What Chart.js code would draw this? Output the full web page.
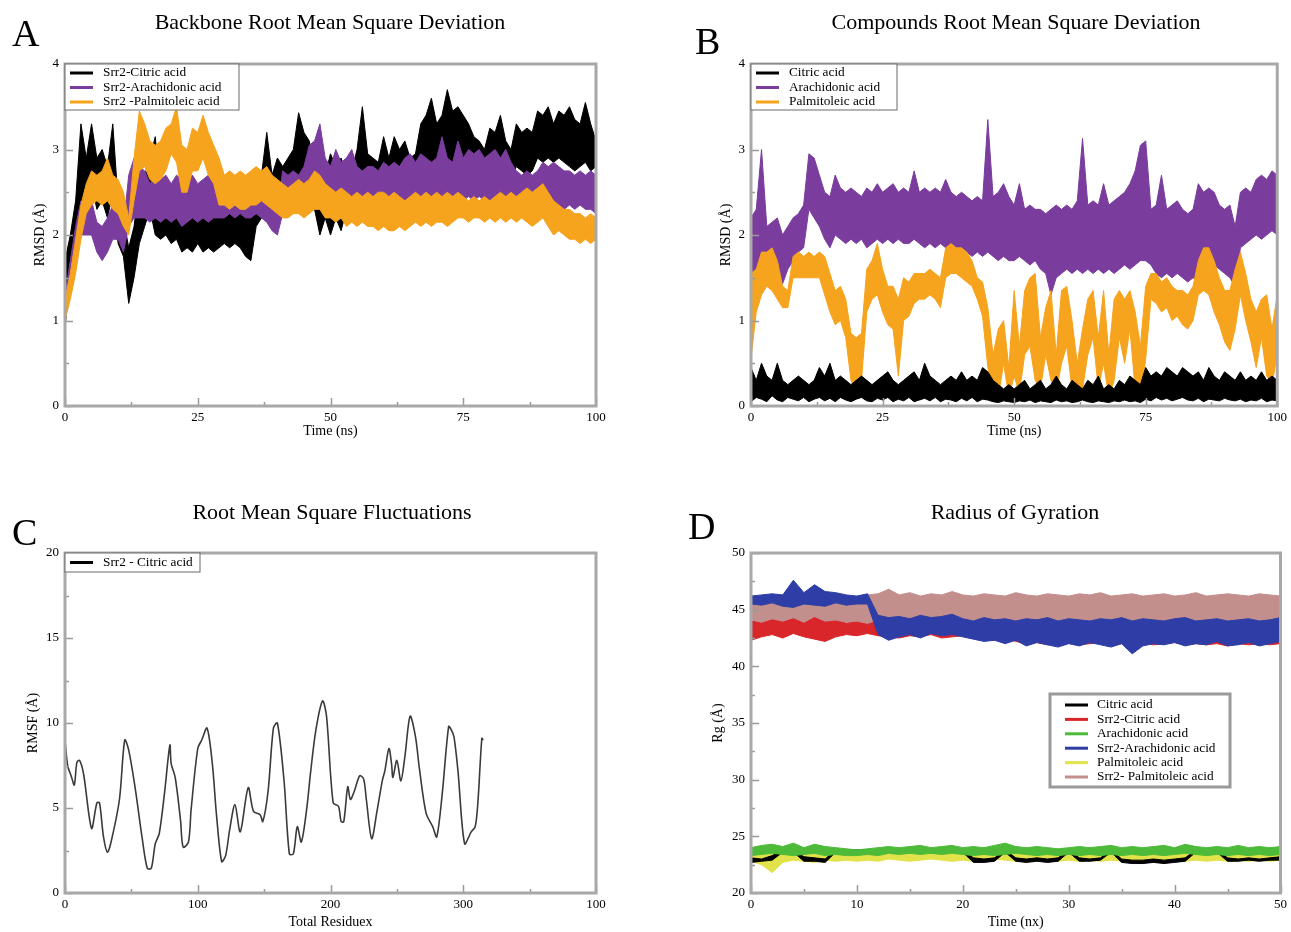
<!DOCTYPE html>
<html><head><meta charset="utf-8">
<script src="https://cdn.jsdelivr.net/npm/chart.js@4.4.1/dist/chart.umd.min.js"></script>
<style>
body{margin:0;background:#fff;width:1291px;height:932px;position:relative;overflow:hidden;font-family:'Liberation Serif','Times New Roman',serif;color:#000;}
canvas{position:absolute;}
.ttl{position:absolute;font-size:22px;line-height:22px;white-space:nowrap;transform:translateX(-50%);}
.lt{position:absolute;font-size:38px;line-height:38px;}
</style></head><body>
<canvas id="cA" width="640" height="460" style="left:0;top:0"></canvas>
<canvas id="cB" width="605" height="460" style="left:686px;top:0"></canvas>
<canvas id="cC" width="640" height="462" style="left:0;top:470px"></canvas>
<canvas id="cD" width="605" height="462" style="left:686px;top:470px"></canvas>
<div class="ttl" style="left:330px;top:11px">Backbone Root Mean Square Deviation</div>
<div class="ttl" style="left:1016px;top:11px">Compounds Root Mean Square Deviation</div>
<div class="ttl" style="left:332px;top:501px">Root Mean Square Fluctuations</div>
<div class="ttl" style="left:1015px;top:501px">Radius of Gyration</div>
<div class="lt" style="left:12px;top:14px">A</div>
<div class="lt" style="left:695px;top:22px">B</div>
<div class="lt" style="left:12px;top:513px">C</div>
<div class="lt" style="left:688px;top:507px">D</div>
<script>
const SERIF = "'Liberation Serif','Times New Roman',serif";
Chart.defaults.font.family = SERIF;
Chart.defaults.color = '#000';

// ---------- names / labels ----------
const bbNames = ['Srr2-Citric acid', 'Srr2-Arachidonic acid', 'Srr2 -Palmitoleic acid'];
const cpNames = ['Citric acid', 'Arachidonic acid', 'Palmitoleic acid'];
const rmsfName = 'Srr2 - Citric acid';
const rgNames = ['Citric acid', 'Srr2-Citric acid', 'Arachidonic acid', 'Srr2-Arachidonic acid', 'Palmitoleic acid', 'Srr2- Palmitoleic acid'];
const rmsfXTickLabels = ['0', '100', '200', '300', '100'];

// sampling grids (ns), one sample per ns
const timeAB = Array.from({length: 101}, (_, i) => i);
const timeD = Array.from({length: 51}, (_, i) => i);

// ---------- A: backbone RMSD (upper / lower envelope of each trace per ns) ----------
const bbCitricHi = [1.7,2.0,2.4,3.3,2.9,3.3,2.9,3.0,2.8,3.3, 2.4,2.2,1.85,2.1,2.6,2.7,2.9,3.15,2.5,2.45, 2.4,2.5,2.35,2.4,2.3,2.45,2.35,2.5,2.3,2.25, 2.4,2.3,2.5,2.4,2.3,2.2,2.6,2.7,3.2,2.7, 2.9,2.8,2.9,3.0,3.43,3.2,3.1,2.8,2.75,2.7, 2.95,2.8,2.9,2.7,2.75,3.0,3.5,2.95,2.9,2.85, 3.15,2.9,3.15,3.0,3.1,2.9,2.95,3.3,3.4,3.6, 3.3,3.4,3.7,3.45,3.5,3.4,3.3,3.15,3.1,3.0, 3.25,3.2,3.4,3.1,3.0,3.3,3.2,3.25,3.2,3.45, 3.4,3.5,3.3,3.45,3.4,3.5,3.35,3.3,3.55,3.3, 3.1];
const bbCitricLo = [0.9,1.6,1.9,2.2,2.4,2.6,2.3,2.4,2.2,2.5, 1.9,1.75,1.2,1.5,1.9,2.1,2.3,2.0,1.95,2.0, 1.9,1.95,1.8,1.85,1.8,1.9,1.8,1.85,1.8,1.85, 1.9,1.85,1.9,1.85,1.75,1.7,2.1,2.2,2.25,2.2, 2.3,2.35,2.3,2.4,2.7,2.6,2.5,2.3,2.0,2.2, 2.0,2.2,2.05,2.3,2.3,2.5,2.7,2.55,2.5,2.5, 2.5,2.45,2.55,2.5,2.6,2.5,2.55,2.7,2.75,2.8, 2.75,2.85,2.9,2.8,2.75,2.8,2.7,2.65,2.6,2.65, 2.75,2.7,2.75,2.7,2.65,2.8,2.75,2.7,2.75,2.9, 2.85,2.9,2.85,2.9,2.85,2.8,2.75,2.8,2.85,2.75, 2.8];
const bbArachHi = [1.3,1.7,2.1,2.4,2.35,2.4,2.15,2.1,2.2,2.35, 2.3,2.1,2.7,2.9,2.8,2.75,2.6,2.7,2.65,2.7, 2.6,2.7,2.65,2.6,2.7,2.6,2.65,2.7,2.6,2.65, 2.6,2.55,2.6,2.6,2.55,2.6,2.55,2.6,2.5,2.45, 2.3,2.75,2.7,2.75,2.7,2.8,3.05,3.1,3.3,2.9, 2.8,3.0,2.85,2.9,3.0,2.8,2.75,2.8,2.8,2.75, 2.85,2.8,2.85,2.8,2.9,2.95,2.85,2.95,2.9,2.85, 2.9,3.15,2.9,2.85,3.1,2.9,3.0,2.95,3.0,2.9, 2.95,3.0,2.9,3.0,2.85,2.75,2.7,2.75,2.7,2.75, 2.85,2.8,2.85,2.8,2.75,2.75,2.7,2.75,2.7,2.75, 2.7];
const bbArachLo = [1.0,1.3,1.7,2.0,2.0,2.0,1.8,1.7,1.8,1.95, 1.95,1.8,2.1,2.2,2.2,2.2,2.15,2.2,2.15,2.2, 2.15,2.2,2.1,2.15,2.2,2.15,2.2,2.15,2.2,2.2, 2.2,2.25,2.2,2.25,2.2,2.2,2.25,2.2,2.15,2.05, 2.0,2.25,2.3,2.25,2.3,2.35,2.45,2.5,2.45,2.4, 2.35,2.4,2.35,2.4,2.35,2.4,2.35,2.35,2.4,2.35, 2.3,2.35,2.3,2.35,2.4,2.4,2.35,2.4,2.45,2.4, 2.4,2.45,2.4,2.45,2.4,2.4,2.45,2.4,2.45,2.4, 2.4,2.45,2.4,2.4,2.35,2.35,2.3,2.35,2.3,2.35, 2.35,2.3,2.35,2.3,2.3,2.35,2.3,2.35,2.3,2.3, 2.25];
const bbPalmHi = [1.25,1.55,1.95,2.35,2.6,2.75,2.7,2.75,2.9,2.7, 2.65,2.5,2.2,2.9,3.45,3.3,3.1,3.05,3.1,3.25, 3.3,3.5,3.05,3.0,3.25,3.2,3.4,3.2,3.05,2.9, 2.7,2.75,2.7,2.75,2.7,2.75,2.8,2.75,2.8,2.7, 2.65,2.6,2.55,2.6,2.65,2.6,2.65,2.75,2.7,2.6, 2.55,2.5,2.55,2.5,2.45,2.5,2.45,2.5,2.45,2.5, 2.5,2.45,2.5,2.45,2.4,2.45,2.5,2.45,2.5,2.45, 2.5,2.45,2.5,2.45,2.5,2.45,2.4,2.45,2.4,2.45, 2.4,2.45,2.5,2.45,2.5,2.45,2.5,2.55,2.5,2.55, 2.6,2.5,2.4,2.35,2.3,2.3,2.25,2.25,2.2,2.25, 2.2];
const bbPalmLo = [1.0,1.25,1.55,1.95,2.25,2.35,2.4,2.35,2.4,2.3, 2.25,2.1,2.0,2.4,2.75,2.8,2.65,2.6,2.65,2.75, 2.95,2.85,2.5,2.5,2.75,2.75,2.9,2.7,2.6,2.35, 2.35,2.3,2.35,2.3,2.3,2.35,2.35,2.4,2.35,2.3, 2.25,2.2,2.2,2.25,2.25,2.2,2.25,2.3,2.3,2.2, 2.2,2.15,2.2,2.1,2.15,2.1,2.15,2.1,2.1,2.05, 2.1,2.05,2.05,2.1,2.05,2.1,2.15,2.1,2.15,2.1, 2.15,2.15,2.1,2.15,2.2,2.2,2.15,2.2,2.2,2.15, 2.2,2.15,2.2,2.15,2.2,2.15,2.2,2.15,2.1,2.15, 2.2,2.1,2.0,2.05,2.0,1.95,1.95,1.9,1.95,1.9, 1.95];

// ---------- B: compound RMSD ----------
const cpCitricHi = [0.45,0.3,0.5,0.35,0.3,0.5,0.3,0.25,0.3,0.35, 0.3,0.25,0.3,0.45,0.35,0.5,0.3,0.35,0.3,0.25, 0.3,0.35,0.3,0.25,0.3,0.35,0.4,0.3,0.25,0.3, 0.35,0.4,0.3,0.5,0.35,0.3,0.25,0.3,0.35,0.3, 0.4,0.3,0.35,0.3,0.45,0.4,0.3,0.25,0.2,0.25, 0.2,0.25,0.3,0.2,0.25,0.3,0.2,0.25,0.35,0.25, 0.2,0.3,0.25,0.2,0.3,0.25,0.35,0.2,0.25,0.2, 0.3,0.25,0.35,0.3,0.25,0.45,0.35,0.4,0.35,0.45, 0.4,0.35,0.45,0.4,0.35,0.4,0.3,0.45,0.35,0.3, 0.4,0.35,0.3,0.4,0.3,0.35,0.3,0.4,0.3,0.35, 0.3];
const cpCitricLo = [0.05,0.1,0.08,0.05,0.12,0.07,0.05,0.1,0.08,0.06, 0.1,0.05,0.08,0.1,0.06,0.09,0.05,0.1,0.07,0.05, 0.08,0.1,0.06,0.05,0.09,0.07,0.1,0.05,0.08,0.06, 0.1,0.05,0.07,0.09,0.06,0.1,0.05,0.08,0.07,0.05, 0.09,0.06,0.1,0.05,0.08,0.07,0.05,0.04,0.06,0.05, 0.04,0.06,0.05,0.07,0.04,0.06,0.05,0.04,0.07,0.05, 0.06,0.04,0.05,0.07,0.05,0.04,0.06,0.05,0.04,0.06, 0.05,0.07,0.05,0.06,0.04,0.08,0.06,0.1,0.07,0.09, 0.06,0.08,0.1,0.07,0.06,0.09,0.05,0.08,0.07,0.06, 0.09,0.07,0.06,0.08,0.05,0.07,0.06,0.09,0.05,0.07, 0.06];
const cpArachHi = [2.2,2.3,3.0,2.1,2.15,2.2,2.0,2.1,2.2,2.25, 2.35,2.95,2.9,2.7,2.5,2.45,2.7,2.55,2.5,2.55, 2.5,2.45,2.55,2.5,2.6,2.5,2.55,2.6,2.5,2.55, 2.5,2.75,2.5,2.55,2.5,2.55,2.5,2.65,2.5,2.45, 2.5,2.45,2.4,2.45,2.4,3.35,2.45,2.5,2.6,2.45, 2.35,2.6,2.3,2.35,2.3,2.3,2.25,2.3,2.35,2.3, 2.35,2.3,2.4,3.13,2.35,2.4,2.35,2.6,2.35,2.4, 2.45,2.5,2.6,2.75,3.05,3.1,2.3,2.35,2.7,2.3, 2.35,2.4,2.3,2.25,2.3,2.6,2.5,2.55,2.5,2.35, 2.3,2.35,2.1,2.5,2.55,2.5,2.65,2.7,2.65,2.75, 2.7];
const cpArachLo = [1.5,1.6,1.7,1.6,1.65,1.7,1.43,1.6,1.7,1.8, 1.85,2.3,2.2,2.1,1.95,1.85,2.0,1.95,1.9,1.95, 1.9,1.95,1.85,1.9,1.95,1.9,1.95,1.9,1.95,1.9, 1.9,1.95,1.9,1.85,1.9,1.85,1.9,1.85,1.8,1.85, 1.75,1.8,1.75,1.8,1.75,1.8,1.75,1.7,1.75,1.7, 1.7,1.75,1.7,1.65,1.7,1.6,1.55,1.3,1.5,1.55, 1.6,1.55,1.6,1.55,1.6,1.55,1.6,1.55,1.6,1.55, 1.6,1.65,1.6,1.65,1.7,1.7,1.65,1.55,1.5,1.55, 1.5,1.55,1.5,1.45,1.5,1.45,1.55,1.6,1.65,1.6, 1.55,1.5,1.4,1.85,1.9,1.95,2.0,1.95,2.0,2.05, 2.0];
const cpPalmHi = [1.55,1.6,1.8,1.8,1.85,1.7,1.4,1.35,1.75,1.8, 1.75,1.8,1.75,1.8,1.75,1.55,1.35,1.4,1.25,0.85, 0.8,0.85,1.6,1.7,1.9,1.6,1.4,1.4,1.25,1.5, 1.45,1.55,1.55,1.55,1.6,1.55,1.5,1.85,1.9,1.85, 1.85,1.8,1.7,1.5,1.45,1.15,0.6,0.9,1.0,0.45, 1.35,0.7,1.35,1.5,1.55,0.8,1.15,1.35,0.6,1.35, 1.4,1.0,0.5,0.9,1.25,1.35,0.8,1.35,0.6,1.25, 1.35,1.25,1.35,1.1,0.7,1.4,1.55,1.55,1.45,1.5, 1.4,1.35,1.35,1.3,1.4,1.7,1.85,1.85,1.7,1.5, 1.35,1.35,1.6,1.8,1.55,1.25,1.1,1.25,1.3,0.9, 1.3];
const cpPalmLo = [0.55,1.1,1.3,1.4,1.35,1.25,1.15,1.15,1.5,1.5, 1.5,1.5,1.5,1.5,1.3,1.1,0.95,1.0,0.8,0.3, 0.15,0.3,1.1,1.25,1.3,1.1,0.95,0.9,0.35,1.0, 1.05,1.2,1.25,1.25,1.3,1.25,1.15,1.5,1.55,1.55, 1.5,1.45,1.4,1.25,1.05,0.45,0.15,0.1,0.5,0.1, 0.35,0.15,0.6,0.7,0.3,0.2,0.6,0.3,0.15,0.5, 0.7,0.2,0.1,0.2,0.6,0.8,0.2,0.5,0.1,0.3, 0.8,0.5,0.9,0.2,0.1,0.55,1.25,1.2,1.1,1.15, 1.0,1.05,0.95,0.9,1.0,1.3,1.35,1.3,1.1,0.95, 0.75,0.65,0.9,1.3,1.0,0.75,0.45,0.8,0.35,0.25, 0.6];

// ---------- C: RMSF ----------
const rmsfResidue = [0,2,5,7,9,11,14,20,24,26, 29,32,35,41,45,48,53,58,62,65, 68,71,75,79,80,83,87,89,93,95, 100,103,107,111,114,118,121,124,128,132, 138,142,147,149,153,157,160,165,169,172, 175,178,182,185,189,194,197,202,206,208, 210,213,215,218,222,225,227,231,235,239, 241,244,246,247,250,253,256,260,264,267, 272,277,280,284,289,291,293,296,301,306, 309,311,314,315];
const rmsfValue = [9.0,7.5,6.8,6.35,7.7,7.8,7.0,3.8,5.3,5.3, 3.3,2.4,3.1,5.5,9.0,8.4,6.1,3.3,1.45,1.45, 2.9,3.5,5.9,8.7,7.6,6.8,4.3,2.7,3.0,4.9, 8.5,9.0,9.7,7.6,4.7,1.85,2.2,3.7,5.2,3.6, 6.2,4.8,4.6,4.2,6.0,9.7,10.0,6.6,2.3,2.3, 3.9,3.0,4.9,7.1,9.6,11.3,10.4,5.3,5.1,4.2, 4.2,6.25,5.5,6.0,6.9,6.7,5.5,3.2,4.8,6.6, 7.2,8.5,7.6,6.8,7.8,6.6,8.0,10.4,9.2,7.3, 4.7,3.9,3.3,5.7,9.8,9.6,9.2,7.2,2.9,3.6, 3.9,5.3,9.1,9.0];

// ---------- D: radius of gyration ----------
const rgCitricHi = [23.1,23.0,23.3,23.8,23.8,23.2,23.1,23.0,23.8,23.8, 23.8,23.8,23.8,23.8,23.8,23.8,23.8,23.8,23.8,23.8, 23.8,23.1,23.0,23.1,23.8,23.1,23.0,23.1,23.0,23.1, 23.8,23.1,23.0,23.1,23.8,23.0,22.9,22.9,23.0,22.9, 23.0,23.1,23.8,23.8,23.8,23.1,23.0,23.1,23.0,23.1, 23.2];
const rgCitricLo = [22.7,22.8,22.9,23.6,23.6,22.8,22.8,22.7,23.6,23.6, 23.6,23.6,23.6,23.6,23.6,23.6,23.6,23.6,23.6,23.6, 23.6,22.7,22.7,22.8,23.6,22.8,22.7,22.8,22.7,22.8, 23.6,22.8,22.8,22.9,23.6,22.7,22.6,22.6,22.7,22.6, 22.7,22.8,23.6,23.6,23.6,22.8,22.8,22.9,22.8,22.9, 22.9];
const rgSrrCitricHi = [44.0,43.8,44.1,43.9,44.2,43.8,44.3,43.9,44.0,43.8, 43.9,43.7,44.0,44.1,43.9,44.2,44.0,43.9,44.1,44.3, 44.0,43.8,43.9,44.0,43.7,43.8,43.6,43.7,43.5,43.6, 43.7,43.5,43.6,43.7,43.5,43.6,43.4,43.6,43.5,43.7, 43.6,43.5,43.6,43.7,43.5,43.6,43.5,43.7,43.6,43.5, 43.6];
const rgSrrCitricLo = [42.3,42.6,42.8,42.5,42.9,42.6,42.4,42.2,42.6,42.8, 42.7,42.9,42.7,42.6,42.5,42.7,42.6,42.8,42.5,42.6, 42.7,42.5,42.4,42.3,42.5,42.2,42.0,42.1,41.9,42.0, 42.1,41.9,42.0,42.1,41.9,42.0,41.6,42.0,41.9,42.0, 42.1,41.9,42.0,41.9,42.0,41.8,42.0,41.9,42.0,41.9, 42.0];
const rgArachHi = [24.0,24.2,24.3,24.1,24.4,24.0,24.3,24.1,24.0,23.9, 23.8,23.9,24.0,24.1,24.0,24.1,24.2,24.0,24.1,24.2, 24.0,24.1,24.0,24.2,24.4,24.1,24.0,24.1,24.0,23.9, 24.0,24.1,24.0,24.1,24.2,24.0,24.1,24.0,24.1,24.2, 24.0,24.3,24.1,24.0,24.1,24.0,24.2,24.0,24.1,24.0, 24.1];
const rgArachLo = [23.3,23.4,23.5,23.4,23.3,23.4,23.5,23.3,23.4,23.3, 23.3,23.4,23.3,23.5,23.4,23.5,23.4,23.5,23.4,23.5, 23.4,23.3,23.4,23.3,23.4,23.5,23.4,23.3,23.4,23.3, 23.4,23.3,23.4,23.3,23.4,23.3,23.4,23.3,23.4,23.3, 23.4,23.5,23.4,23.3,23.4,23.3,23.4,23.3,23.4,23.3, 23.4];
const rgSrrArachHi = [46.2,46.3,46.4,46.3,47.6,46.5,47.2,46.6,46.5,46.3, 46.2,46.4,44.5,44.3,44.4,44.2,44.5,44.3,44.4,44.6, 44.2,44.0,44.3,44.1,44.2,44.0,44.2,44.1,44.3,44.0, 44.2,44.1,44.0,44.2,44.1,44.3,44.0,44.2,44.1,44.0, 44.2,44.3,44.0,44.1,44.2,44.0,44.1,44.2,44.0,44.1, 44.3];
const rgSrrArachLo = [45.5,45.4,45.6,45.3,45.2,45.5,45.4,45.3,45.6,45.4, 45.5,45.5,42.8,42.3,42.6,42.8,42.5,42.9,42.7,42.8, 42.6,42.4,42.2,42.3,42.0,42.3,41.8,42.1,41.9,41.7, 42.0,41.8,42.1,41.9,41.7,42.0,41.1,41.8,42.0,41.9, 42.1,41.8,42.0,41.9,42.2,41.8,41.9,42.1,41.8,42.0, 42.2];
const rgPalmHi = [23.5,23.6,23.5,23.6,23.7,23.5,23.6,23.5,23.6,23.5, 23.6,23.5,23.6,23.5,23.6,23.7,23.6,23.5,23.6,23.5, 23.6,23.5,23.6,23.5,23.6,23.5,23.6,23.5,23.6,23.5, 23.6,23.5,23.6,23.5,23.6,23.5,23.6,23.5,23.6,23.5, 23.6,23.5,23.6,23.5,23.6,23.5,23.6,23.5,23.6,23.5, 23.6];
const rgPalmLo = [22.8,22.5,21.8,22.7,22.9,22.8,22.7,22.9,22.8,22.9, 22.8,22.9,22.8,23.0,22.9,22.8,22.9,23.0,22.9,22.8, 22.9,22.8,22.9,23.0,22.9,22.8,22.9,22.8,22.9,22.8, 22.9,22.8,22.9,22.8,22.9,22.8,22.9,22.8,22.9,22.8, 22.9,22.8,22.9,22.8,22.9,22.8,22.9,22.8,22.9,22.8, 22.9];
const rgSrrPalmHi = [46.0,46.2,46.1,46.3,46.2,46.1,46.3,46.2,46.0,46.2, 46.1,46.3,46.4,46.8,46.3,46.5,46.2,46.4,46.3,46.6, 46.3,46.2,46.4,46.3,46.2,46.5,46.3,46.2,46.4,46.3, 46.2,46.4,46.3,46.5,46.2,46.3,46.4,46.2,46.3,46.4, 46.2,46.3,46.5,46.2,46.3,46.4,46.3,46.2,46.4,46.3, 46.2];
const rgSrrPalmLo = [43.6,43.8,43.7,43.9,43.8,43.7,43.9,43.8,43.7,43.9, 43.8,43.7,43.8,43.9,43.8,43.9,43.8,43.9,43.8,43.9, 43.8,43.9,43.8,43.9,43.8,43.7,43.8,43.7,43.8,43.7, 43.8,43.7,43.8,43.7,43.8,43.7,43.8,43.7,43.8,43.7, 43.8,43.7,43.8,43.7,43.8,43.7,43.8,43.7,43.8,43.7, 43.8];

// ---------- colours ----------
const C_BLACK = '#000000', C_PURPLE = '#7a3d9e', C_ORANGE = '#f6a31d';
const C_RED = '#d9262b', C_GREEN = '#4dba3a', C_BLUE = '#2f3ea6', C_YELLOW = '#e2e24a', C_ROSY = '#c38f8d';

// ---------- plugins ----------
const frameTicks = {
  id: 'frameTicks',
  afterDatasetsDraw(chart, args, o) {
    const {ctx, chartArea: a, scales: {x, y}} = chart;
    ctx.save();
    ctx.strokeStyle = '#9a9a9a'; ctx.lineWidth = 1.5;
    ctx.beginPath();
    let k = 0;
    for (let v = x.min; v <= x.max + 1e-9; v += o.xMinor, k++) {
      const px = Math.round(x.getPixelForValue(v)) + 0.5;
      const len = k % 2 === 0 ? 8 : 4;
      ctx.moveTo(px, a.bottom); ctx.lineTo(px, a.bottom - len);
    }
    k = 0;
    for (let v = y.min; v <= y.max + 1e-9; v += o.yMinor, k++) {
      const py = Math.round(y.getPixelForValue(v)) + 0.5;
      const len = k % 2 === 0 ? 8 : 4;
      ctx.moveTo(a.left, py); ctx.lineTo(a.left + len, py);
    }
    ctx.stroke();
    ctx.strokeStyle = '#a8a8a8'; ctx.lineWidth = 3;
    ctx.strokeRect(a.left, a.top, a.right - a.left, a.bottom - a.top);
    ctx.restore();
  }
};
const insideLegend = {
  id: 'insideLegend',
  afterDatasetsDraw(chart, args, o) {
    if (!o || !o.items) return;
    const {ctx, chartArea: a} = chart;
    const x0 = a.left + o.dx, y0 = a.top + o.dy;
    ctx.save();
    ctx.fillStyle = '#fff';
    ctx.fillRect(x0, y0, o.w, o.h);
    ctx.lineWidth = o.bw; ctx.strokeStyle = o.bc;
    ctx.strokeRect(x0, y0, o.w, o.h);
    ctx.font = o.fs + 'px ' + SERIF;
    ctx.textBaseline = 'middle'; ctx.textAlign = 'left';
    for (let i = 0; i < o.items.length; i++) {
      const it = o.items[i];
      const yy = y0 + o.first + i * o.row;
      ctx.strokeStyle = it.color; ctx.lineWidth = 3;
      ctx.beginPath(); ctx.moveTo(x0 + o.l0, yy); ctx.lineTo(x0 + o.l1, yy); ctx.stroke();
      ctx.fillStyle = '#000'; ctx.fillText(it.label, x0 + o.tx, yy);
    }
    ctx.restore();
  }
};

// filled band between the read upper and lower values of a noisy trace
function band(t, hi, lo, color, order, label) {
  return [
    {label, data: t.map((x, i) => ({x, y: hi[i]})), borderColor: color, backgroundColor: color,
     borderWidth: 1, borderJoinStyle: 'bevel', pointRadius: 0, fill: '+1', order, tension: 0},
    {label: label + ' (min)', data: t.map((x, i) => ({x, y: lo[i]})), borderColor: color, backgroundColor: color,
     borderWidth: 1, borderJoinStyle: 'bevel', pointRadius: 0, fill: false, order, tension: 0}
  ];
}

function makeChart(id, datasets, o) {
  const xTicks = {stepSize: o.x[2], padding: 4, font: {size: 13}, color: '#000', maxRotation: 0, autoSkip: false};
  if (o.xcb) xTicks.callback = o.xcb;
  return new Chart(document.getElementById(id), {
    type: 'line',
    data: {datasets},
    options: {
      responsive: false, animation: false,
      layout: {padding: o.pad},
      plugins: {
        legend: {display: false}, tooltip: {enabled: false},
        frameTicks: {xMinor: o.xMinor, yMinor: o.yMinor},
        insideLegend: o.legend
      },
      scales: {
        x: {type: 'linear', min: o.x[0], max: o.x[1], ticks: xTicks,
            grid: {display: false, drawTicks: false}, border: {display: false},
            title: {display: true, text: o.xTitle, font: {size: 14}, color: '#000', padding: {top: 0, bottom: o.xtpad}},
            afterFit(s) { s.height = o.xh; }},
        y: {type: 'linear', min: o.y[0], max: o.y[1],
            ticks: {stepSize: o.y[2], padding: 6, font: {size: 13}, color: '#000'},
            grid: {display: false, drawTicks: false}, border: {display: false},
            title: {display: true, text: o.yTitle, font: {size: 14}, color: '#000', padding: {top: o.ytpad, bottom: 0}},
            afterFit(s) { s.width = 65; }}
      }
    },
    plugins: [frameTicks, insideLegend]
  });
}

const smallLegend = {dx: 0, dy: 0, h: 46, first: 9, row: 14.5, l0: 5, l1: 28, tx: 38, bw: 1, bc: '#6a6a6a', fs: 13.3};

// A
makeChart('cA', [
  ...band(timeAB, bbPalmHi, bbPalmLo, C_ORANGE, 1, bbNames[2]),
  ...band(timeAB, bbArachHi, bbArachLo, C_PURPLE, 2, bbNames[1]),
  ...band(timeAB, bbCitricHi, bbCitricLo, C_BLACK, 3, bbNames[0])
], {pad: {left: 0, top: 64, right: 44, bottom: 0}, x: [0, 100, 25], y: [0, 4, 1], xMinor: 12.5, yMinor: 0.5,
    xTitle: 'Time (ns)', yTitle: 'RMSD (Å)', xh: 54, xtpad: 20, ytpad: 32,
    legend: Object.assign({}, smallLegend, {w: 174, items: [
      {label: bbNames[0], color: C_BLACK}, {label: bbNames[1], color: C_PURPLE}, {label: bbNames[2], color: C_ORANGE}]})});

// B
makeChart('cB', [
  ...band(timeAB, cpCitricHi, cpCitricLo, C_BLACK, 1, cpNames[0]),
  ...band(timeAB, cpPalmHi, cpPalmLo, C_ORANGE, 2, cpNames[2]),
  ...band(timeAB, cpArachHi, cpArachLo, C_PURPLE, 3, cpNames[1])
], {pad: {left: 0, top: 64, right: 9, bottom: 0}, x: [0, 100, 25], y: [0, 4, 1], xMinor: 12.5, yMinor: 0.5,
    xTitle: 'Time (ns)', yTitle: 'RMSD (Å)', xh: 54, xtpad: 20, ytpad: 32,
    legend: Object.assign({}, smallLegend, {w: 146, items: [
      {label: cpNames[0], color: C_BLACK}, {label: cpNames[1], color: C_PURPLE}, {label: cpNames[2], color: C_ORANGE}]})});

// C
makeChart('cC', [
  {label: rmsfName, data: rmsfResidue.map((x, i) => ({x, y: rmsfValue[i]})), borderColor: '#3a3a3a',
   borderWidth: 1.6, pointRadius: 0, fill: false, tension: 0.3}
], {pad: {left: 0, top: 83, right: 44, bottom: 0}, x: [0, 400, 100], y: [0, 20, 5], xMinor: 50, yMinor: 2.5,
    xTitle: 'Total Residuex', yTitle: 'RMSF (Å)', xh: 39, xtpad: 1, ytpad: 25,
    xcb: (v) => rmsfXTickLabels[Math.round(v / 100)],
    legend: Object.assign({}, smallLegend, {w: 135, h: 19, first: 9.5, items: [{label: rmsfName, color: C_BLACK}]})});

// D
makeChart('cD', [
  ...band(timeD, rgSrrArachHi, rgSrrArachLo, C_BLUE, 1, rgNames[3]),
  ...band(timeD, rgSrrCitricHi, rgSrrCitricLo, C_RED, 2, rgNames[1]),
  ...band(timeD, rgSrrPalmHi, rgSrrPalmLo, C_ROSY, 3, rgNames[5]),
  ...band(timeD, rgArachHi, rgArachLo, C_GREEN, 1, rgNames[2]),
  ...band(timeD, rgCitricHi, rgCitricLo, C_BLACK, 2, rgNames[0]),
  ...band(timeD, rgPalmHi, rgPalmLo, C_YELLOW, 3, rgNames[4])
], {pad: {left: 0, top: 83, right: 9, bottom: 0}, x: [0, 50, 10], y: [20, 50, 5], xMinor: 5, yMinor: 2.5,
    xTitle: 'Time (nx)', yTitle: 'Rg (Å)', xh: 39, xtpad: 1, ytpad: 24,
    legend: {dx: 299, dy: 141, w: 180, h: 93, first: 11, row: 14.4, l0: 15, l1: 38, tx: 47, bw: 3, bc: '#9a9a9a', fs: 13.3,
      items: [{label: rgNames[0], color: C_BLACK}, {label: rgNames[1], color: C_RED}, {label: rgNames[2], color: C_GREEN},
              {label: rgNames[3], color: C_BLUE}, {label: rgNames[4], color: C_YELLOW}, {label: rgNames[5], color: C_ROSY}]}});
</script>
</body></html>
